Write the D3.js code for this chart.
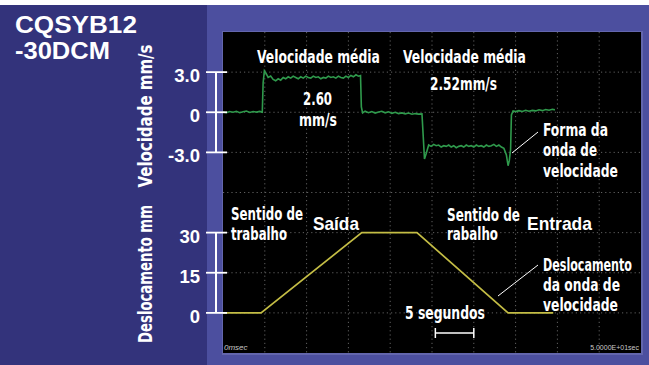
<!DOCTYPE html>
<html>
<head>
<meta charset="utf-8">
<script src="https://cdn.jsdelivr.net/npm/d3@7"></script>
<style>
html,body{margin:0;padding:0;background:#fff;}
svg{display:block;}
</style>
</head>
<body>
<svg id="chart" width="649" height="365"></svg>
<script>
// ---------------- DATA ----------------
const modelName = ["CQSYB12", "-30DCM"];
const velocityTicks = [3, 0, -3];
const velocityTickLabels = ["3.0", "0", "-3.0"];
const displacementTicks = [30, 15, 0];
const displacementTickLabels = ["30", "15", "0"];
const timeRange = [0, 50];          // seconds across the screen (10 div x 5 s)
const timeLabels = ["0msec", "5.0000E+01sec"];

// velocity waveform [time s, velocity mm/s]
const velocityWave = [
[0.0,0.02],[0.4,-0.04],[0.8,0.05],[1.2,0.0],[1.6,0.07],[2.0,-0.03],[2.4,0.04],[2.8,0.09],[3.2,-0.02],[3.6,0.05],[4.0,0.01],[4.4,0.06],[4.7,0.0],
[4.8,2.2],[4.95,3.1],[5.15,2.9],[5.4,2.6],[5.7,2.7],[6.0,2.45],[6.3,2.35],[6.6,2.5],[6.9,2.4],[7.2,2.6],[7.5,2.5],[7.8,2.65],[8.1,2.55],[8.4,2.7],[8.7,2.6],[9.0,2.5],[9.3,2.65],[9.6,2.55],[9.9,2.7],[10.2,2.6],[10.5,2.55],[10.8,2.7],[11.1,2.6],[11.4,2.65],[11.7,2.5],[12.0,2.6],[12.3,2.55],[12.6,2.7],[12.9,2.6],[13.2,2.65],[13.5,2.55],[13.8,2.7],[14.1,2.6],[14.4,2.55],[14.7,2.7],[15.0,2.6],[15.3,2.75],[15.6,2.65],[15.9,2.8],[16.2,2.7],[16.45,2.75],
[16.55,0.4],[16.7,-0.05],[17.0,0.08],[17.4,-0.03],[17.8,0.05],[18.2,-0.06],[18.6,0.02],[19.0,0.07],[19.4,-0.04],[19.8,0.03],[20.2,-0.08],[20.6,0.0],[21.0,-0.1],[21.4,-0.05],[21.8,-0.12],[22.2,-0.06],[22.6,-0.15],[23.0,-0.1],[23.4,-0.14],[23.8,-0.12],
[23.95,-1.8],[24.1,-3.5],[24.3,-3.1],[24.6,-2.45],[24.9,-2.55],[25.2,-2.4],[25.5,-2.5],[25.8,-2.45],[26.1,-2.6],[26.4,-2.5],[26.7,-2.55],[27.0,-2.45],[27.3,-2.6],[27.6,-2.5],[27.9,-2.65],[28.2,-2.55],[28.5,-2.5],[28.8,-2.6],[29.1,-2.45],[29.4,-2.55],[29.7,-2.5],[30.0,-2.6],[30.3,-2.45],[30.6,-2.55],[30.9,-2.5],[31.2,-2.6],[31.5,-2.45],[31.8,-2.55],[32.1,-2.5],[32.4,-2.4],[32.7,-2.55],[33.0,-2.45],[33.3,-2.6],[33.6,-2.7],[33.9,-3.2],[34.1,-4.0],[34.25,-3.6],[34.4,-2.8],
[34.5,-0.2],[34.7,0.1],[35.0,0.05],[35.4,0.12],[35.8,0.06],[36.2,0.15],[36.6,0.08],[37.0,0.14],[37.4,0.1],[37.8,0.18],[38.2,0.12],[38.6,0.2],[39.0,0.15],[39.4,0.22],[39.7,0.18]
];

// displacement waveform [time s, displacement mm]
const displacementWave = [[0,0],[4.55,0],[16.6,30],[23.2,30],[34.1,0],[39.5,0]];

// scale bar for "5 segundos"
const scaleBar = {start: 25.4, end: 30.0, label: "5 segundos"};

// ---------------- LAYOUT ----------------
const W = 649, H = 365;
const scr = {x0: 223, y0: 32, x1: 641, y1: 353};
const divH = (scr.y1 - scr.y0) / 8;

const svg = d3.select("#chart");
const NARROW = "'Liberation Sans Narrow','Arial Narrow','DejaVu Sans Condensed',sans-serif";
const SANS = "'Liberation Sans',Arial,Helvetica,sans-serif";

svg.append("rect").attr("width", W).attr("height", H).attr("fill", "#ffffff");
svg.append("rect").attr("x", 0).attr("y", 5).attr("width", W).attr("height", H - 5).attr("fill", "#33337b");
svg.append("rect").attr("x", 207).attr("y", 5).attr("width", W - 207).attr("height", H - 5).attr("fill", "#4c4f9f");
svg.append("rect").attr("x", scr.x0 - 1).attr("y", scr.y0 - 1).attr("width", scr.x1 - scr.x0 + 3).attr("height", scr.y1 - scr.y0 + 3).attr("fill", "#6366ad");
svg.append("rect").attr("x", scr.x0).attr("y", scr.y0).attr("width", scr.x1 - scr.x0).attr("height", scr.y1 - scr.y0).attr("fill", "#000000");

// scales
const x = d3.scaleLinear().domain(timeRange).range([scr.x0, scr.x1]);
const yVel = d3.scaleLinear().domain([-3, 3]).range([scr.y0 + 3 * divH, scr.y0 + divH]);
const yDisp = d3.scaleLinear().domain([0, 30]).range([scr.y0 + 7 * divH, scr.y0 + 5 * divH]);

// grid
const grid = svg.append("g").attr("stroke", "#606060").attr("stroke-width", 1).attr("stroke-dasharray", "1.2,3");
d3.range(5, 50, 5).forEach(t => {
  grid.append("line").attr("x1", x(t)).attr("x2", x(t)).attr("y1", scr.y0).attr("y2", scr.y1);
});
d3.range(1, 8).forEach(k => {
  const yy = scr.y0 + k * divH;
  grid.append("line").attr("x1", scr.x0).attr("x2", scr.x1).attr("y1", yy).attr("y2", yy);
});

// traces
const lineVel = d3.line().x(d => x(d[0])).y(d => yVel(d[1]));
const lineDisp = d3.line().x(d => x(d[0])).y(d => yDisp(d[1]));
svg.append("path").datum(displacementWave).attr("d", lineDisp).attr("fill", "none")
  .attr("stroke", "#c4bd45").attr("stroke-width", 1.7);
svg.append("path").datum(velocityWave).attr("d", lineVel).attr("fill", "none")
  .attr("stroke", "#2f9a4c").attr("stroke-width", 1.6);

// axis brackets
function bracket(scale, ticks, labels) {
  const g = svg.append("g");
  g.append("line").attr("x1", 216).attr("x2", 216)
    .attr("y1", scale(d3.max(ticks))).attr("y2", scale(d3.min(ticks)))
    .attr("stroke", "#fff").attr("stroke-width", 2);
  ticks.forEach((t, i) => {
    g.append("line").attr("x1", 206).attr("x2", 227).attr("y1", scale(t)).attr("y2", scale(t))
      .attr("stroke", "#fff").attr("stroke-width", 1.8);
    g.append("text").attr("x", 200).attr("y", scale(t) + 10).attr("text-anchor", "end")
      .attr("font-family", SANS).attr("font-weight", "bold").attr("font-size", 18.5)
      .attr("fill", "#fff").text(labels[i]);
  });
}
bracket(yVel, velocityTicks, velocityTickLabels);
bracket(yDisp, displacementTicks, displacementTickLabels);

// text helper: font size sets glyph height, horizontal scale fits the target width
function label(txt, px, py, size, width, fam, rot, anchor) {
  const t = svg.append("text").attr("x", 0).attr("y", 0)
    .attr("font-family", fam || NARROW).attr("font-weight", "bold")
    .attr("font-size", size).attr("fill", "#fff")
    .attr("text-anchor", anchor || "start").text(txt);
  let sx = 1;
  const w = t.node().getComputedTextLength();
  if (width && w > 0) sx = width / w;
  t.attr("transform", `translate(${px},${py})` + (rot ? ` rotate(${rot})` : "") + ` scale(${sx},1)`);
  return t;
}

// title
label(modelName[0], 15, 33, 24.5, 122, SANS);
label(modelName[1], 15, 59, 24.5, 95, SANS);

// axis titles
label("Velocidade mm/s", 152, 116, 20, 143, NARROW, -90, "middle");
label("Deslocamento mm", 152, 274, 19, 138, NARROW, -90, "middle");

// annotations
const notes = [
  ["Velocidade média", 257, 63, 17.5, 123],
  ["2.60", 303, 105, 17.5, 29],
  ["mm/s", 299, 126, 17.5, 38],
  ["Velocidade média", 403, 63, 17.5, 123],
  ["2.52mm/s", 430, 90, 17.5, 67],
  ["Forma da", 543, 136, 18, 65],
  ["onda de", 543, 156, 18, 54],
  ["velocidade", 543, 177, 18, 75],
  ["Sentido de", 231, 220, 17.5, 72],
  ["trabalho", 231, 240, 17.5, 56],
  ["Sentido de", 447, 221, 17.5, 73],
  ["rabalho", 447, 240, 17.5, 51],
  ["Deslocamento", 543, 271, 17.5, 89],
  ["da onda de", 543, 291, 17.5, 77],
  ["velocidade", 543, 311, 17.5, 75]
];
notes.forEach(n => label(n[0], n[1], n[2], n[3], n[4]));
label("Saída", 313, 230, 17.5, 46, SANS);
label("Entrada", 527, 230, 17.5, 65, SANS);

// leader lines
[[538, 132, 512, 153], [538, 265, 498, 296]].forEach(l => {
  svg.append("line").attr("x1", l[0]).attr("y1", l[1]).attr("x2", l[2]).attr("y2", l[3])
    .attr("stroke", "#fff").attr("stroke-width", 1);
});

// scale bar
label(scaleBar.label, 405, 319, 17.5, 80);
const sbY = 333;
const sb = svg.append("g").attr("stroke", "#fff").attr("stroke-width", 1.5);
sb.append("line").attr("x1", x(scaleBar.start)).attr("x2", x(scaleBar.end)).attr("y1", sbY).attr("y2", sbY);
sb.append("line").attr("x1", x(scaleBar.start)).attr("x2", x(scaleBar.start)).attr("y1", sbY - 5).attr("y2", sbY + 5);
sb.append("line").attr("x1", x(scaleBar.end)).attr("x2", x(scaleBar.end)).attr("y1", sbY - 5).attr("y2", sbY + 5);

// tiny time labels
svg.append("text").attr("x", x(timeRange[0]) + 1).attr("y", 350).attr("font-family", SANS)
  .attr("font-size", 8).attr("font-style", "italic").attr("fill", "#c8c8c8").text(timeLabels[0]);
svg.append("text").attr("x", x(timeRange[1]) - 2).attr("y", 350).attr("text-anchor", "end").attr("font-family", SANS)
  .attr("font-size", 7).attr("fill", "#c8c8c8").text(timeLabels[1]);
</script>
</body>
</html>
